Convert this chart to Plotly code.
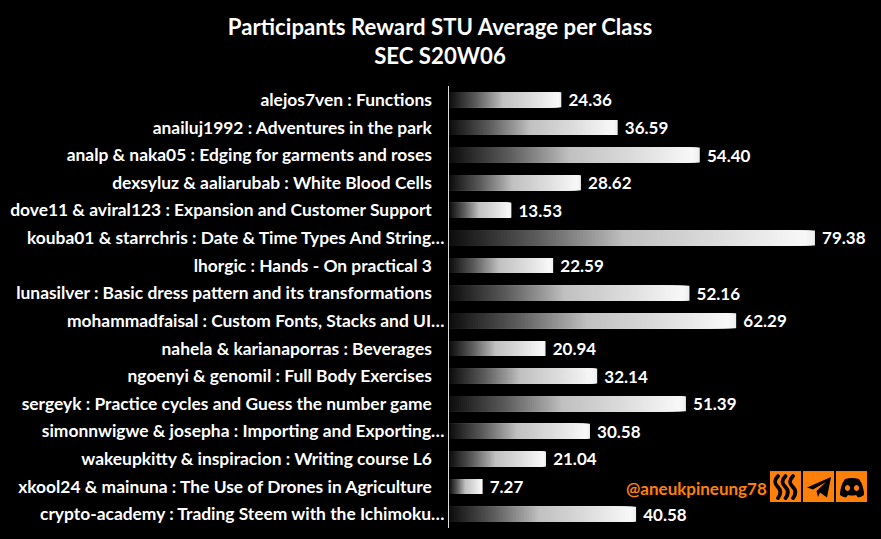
import base64
import plotly.graph_objects as go

title_lines = ["Participants Reward STU Average per Class", "SEC S20W06"]
classes = [
    "alejos7ven : Functions",
    "anailuj1992 : Adventures in the park",
    "analp & naka05 : Edging for garments and roses",
    "dexsyluz & aaliarubab : White Blood Cells",
    "dove11 & aviral123 : Expansion and Customer Support",
    "kouba01 & starrchris : Date & Time Types And String…",
    "lhorgic : Hands - On practical 3",
    "lunasilver : Basic dress pattern and its transformations",
    "mohammadfaisal : Custom Fonts, Stacks and UI…",
    "nahela & karianaporras : Beverages",
    "ngoenyi & genomil : Full Body Exercises",
    "sergeyk : Practice cycles and Guess the number game",
    "simonnwigwe & josepha : Importing and Exporting…",
    "wakeupkitty & inspiracion : Writing course L6",
    "xkool24 & mainuna : The Use of Drones in Agriculture",
    "crypto-academy : Trading Steem with the Ichimoku…",
]
reward_stu = [24.36, 36.59, 54.40, 28.62, 13.53, 79.38, 22.59, 52.16,
              62.29, 20.94, 32.14, 51.39, 30.58, 21.04, 7.27, 40.58]
watermark = "@aneukpineung78"

W, H = 881, 539
L, R, T, B = 449, 0, 85.5, 11
PX_PER_UNIT = 4.61
FONT = "Lato"
ORANGE = "#FF7F0B"

# gradient stops (fraction along the bar -> grey level)
stops = [(0, 12), (.24, 92), (.42, 165), (.48, 192), (.70, 216), (.97, 248), (1, 238)]


def grey(f):
    for (a, ca), (b, cb) in zip(stops, stops[1:]):
        if f <= b:
            c = round(ca + (cb - ca) * (f - a) / (b - a))
            return f"rgb({c},{c},{c})"
    return "rgb(245,245,245)"


# labels that are not cut short carry a little padding after them, as in the original
tick_labels = [c if c.endswith("…") else c + "\u00a0" * 3 for c in classes]

N = 120
fig = go.Figure()
for k in range(N):
    frac = 1 - k / N
    fig.add_bar(
        y=tick_labels,
        x=[v * frac for v in reward_stu],
        orientation="h",
        marker=dict(color=grey(frac - 0.5 / N), line_width=0),
        hoverinfo="skip",
        showlegend=False,
        text=[f"\u00a0{v:.2f}" for v in reward_stu] if k == 0 else None,
        textposition="outside" if k == 0 else None,
        textfont=dict(family=FONT, size=17, color="white", weight=700),
        constraintext="none",
        cliponaxis=False,
    )


def svg_uri(body):
    svg = f'<svg xmlns="http://www.w3.org/2000/svg" viewBox="0 0 31 31"><rect width="31" height="31" fill="{ORANGE}"/>{body}</svg>'
    return "data:image/svg+xml;base64," + base64.b64encode(svg.encode()).decode()


steem = "".join(
    f'<path d="M{x+1} 5 C{x-4} 10 {x-2} 13 {x+1} 16 C{x+4} 19 {x+4} 23 {x+1} 27" fill="none" stroke="#000" stroke-width="3.8" stroke-linecap="round"/>'
    for x in (7, 14.5, 22)
)
telegram = '<path d="M4 16.5 L28 6 L24 26.5 L17 21.5 L15 26 L13.5 20 L23 11 L10 18.5 Z" fill="#000"/>'
discord = ('<path fill-rule="evenodd" fill="#000" d="M9 8 Q16 6 23 8 Q28 15 28 24 Q25 26.5 22 26.5 L20 24 '
           'Q16 25 12 24 L10 26.5 Q7 26.5 4 24 Q4 15 9 8 Z '
           'M11.5 14 a2.6 3 0 1 0 .01 0 Z M20.5 14 a2.6 3 0 1 0 .01 0 Z"/>')

plot_w, plot_h = W - L - R, H - T - B
images = []
for x0, body in ((770, steem), (803, telegram), (836, discord)):
    images.append(dict(
        source=svg_uri(body), xref="paper", yref="paper",
        x=(x0 - L) / plot_w, y=1 - (471 - T) / plot_h,
        sizex=31 / plot_w, sizey=31 / plot_h,
        sizing="stretch", xanchor="left", yanchor="top", layer="above",
    ))

fig.update_layout(
    width=W, height=H, autosize=False,
    margin=dict(l=L, r=R, t=T, b=B, pad=0),
    paper_bgcolor="black", plot_bgcolor="black",
    barmode="overlay", bargap=0.46,
    font=dict(family=FONT, color="white"),
    title=dict(
        text="<br>".join(title_lines),
        font=dict(family=FONT, size=22.2, color="white", weight=700),
        x=440 / W, xanchor="center", xref="container",
        y=1 - 35 / H, yanchor="top", yref="container",
    ),
    xaxis=dict(visible=False, range=[0, plot_w / PX_PER_UNIT]),
    yaxis=dict(
        autorange="reversed", showgrid=False, zeroline=False,
        showline=True, linecolor="#DDDDDD", linewidth=1, ticks="",
        ticklabelstandoff=0,
        tickfont=dict(family=FONT, size=17.4, color="white", weight=700),
    ),
    images=images,
    annotations=[dict(
        text=watermark, xref="paper", yref="paper",
        x=(768.5 - L) / plot_w, y=1 - (488 - T) / plot_h,
        xanchor="right", yanchor="middle", showarrow=False,
        font=dict(family=FONT, size=17, color=ORANGE, weight=700),
    )],
)
fig.write_html("out.html", config={"displayModeBar": False},
               post_script="document.body.style.margin='0';")
